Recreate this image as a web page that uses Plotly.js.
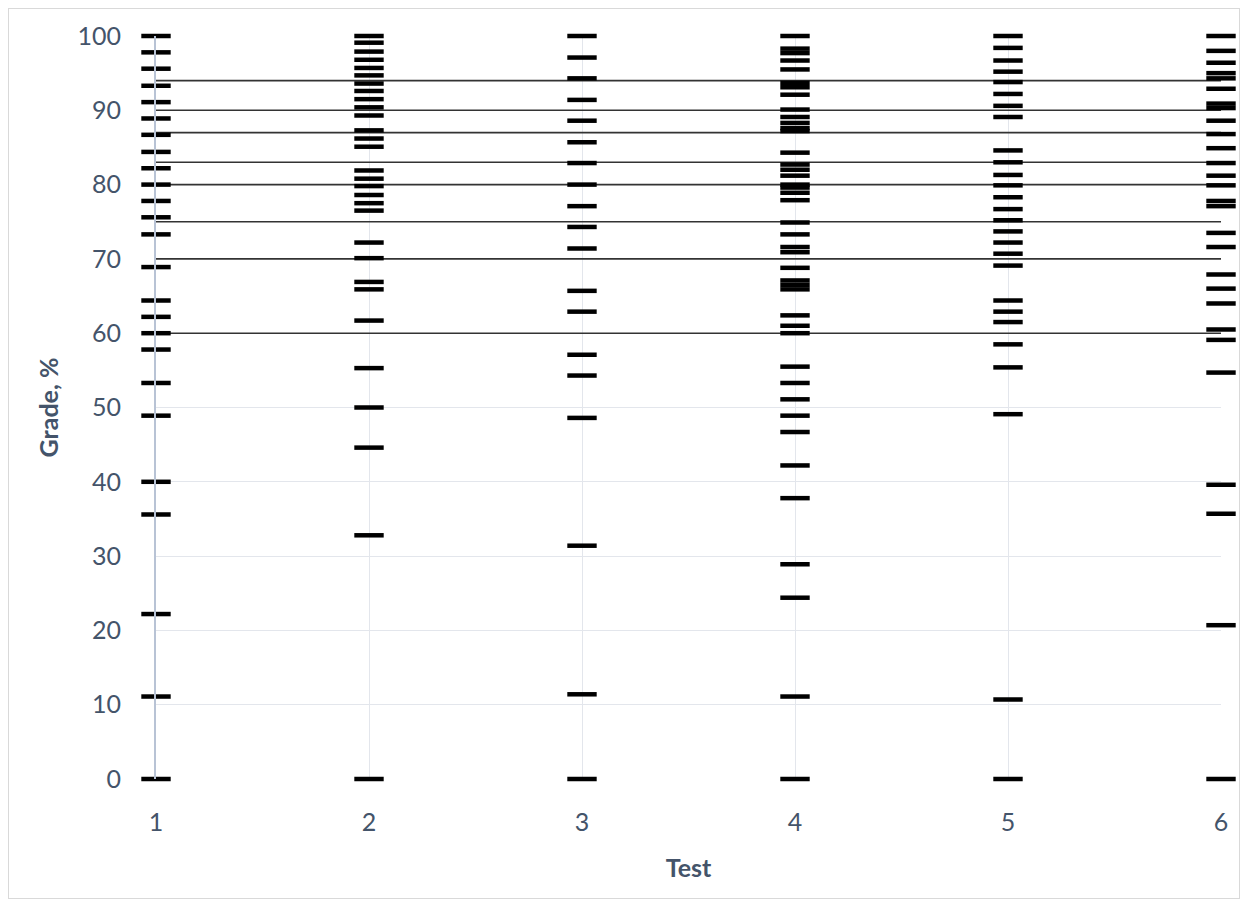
<!DOCTYPE html>
<html>
<head>
<meta charset="utf-8">
<script src="https://cdn.plot.ly/plotly-3.0.1.min.js"></script>
<style>
  html, body { margin: 0; padding: 0; background: #fff; }
  #chart { width: 1244px; height: 905px; }
  #frame { position: absolute; left: 8px; top: 8px; width: 1230px; height: 889px; border: 1px solid #d9d9d9; pointer-events: none; }
</style>
</head>
<body>
<div id="chart"></div>
<div id="frame"></div>
<script>
// Tests (x categories)
const tests = [1, 2, 3, 4, 5, 6];

// Grades for each test (%)
const test1 = [100, 97.8, 95.6, 93.3, 91.1, 88.9, 86.7, 84.4, 82.2, 80, 77.8, 75.6, 73.3, 68.9, 64.4, 62.2, 60, 57.8, 53.3, 48.9, 40, 35.6, 22.2, 11.1, 0];
const test2 = [100, 99.1, 97.9, 96.8, 95.7, 94.7, 93.6, 92.6, 91.5, 90.4, 89.3, 87.3, 86.2, 85.1, 81.9, 80.8, 79.8, 78.6, 77.5, 76.5, 72.2, 70.1, 66.9, 65.9, 61.7, 55.3, 50, 44.6, 32.8, 0];
const test3 = [100, 97.1, 94.3, 91.4, 88.6, 85.7, 82.9, 80, 77.1, 74.3, 71.4, 65.7, 62.9, 57.1, 54.3, 48.6, 31.4, 11.4, 0];
const test4 = [100, 98.3, 97.7, 96.7, 95.5, 93.7, 93.1, 92.1, 90.1, 89.1, 88.3, 87.6, 87.2, 84.3, 82.7, 82, 81.2, 80, 79.6, 78.9, 77.9, 74.9, 73.3, 71.6, 70.9, 68.8, 67.1, 66.5, 65.9, 62.4, 61, 60, 55.5, 53.3, 51.1, 48.9, 46.7, 42.2, 37.8, 28.9, 24.4, 11.1, 0];
const test5 = [100, 98.4, 96.7, 95.2, 93.8, 92.2, 90.6, 89.1, 84.6, 83, 81.3, 79.9, 78.3, 76.7, 75.2, 73.7, 72.2, 70.7, 69.1, 64.4, 62.9, 61.5, 58.5, 55.4, 49.1, 10.7, 0];
const test6 = [100, 98, 96.4, 95, 94.3, 92.9, 90.9, 90.3, 88.6, 86.8, 84.9, 82.9, 81.2, 79.9, 77.8, 77.1, 73.5, 71.6, 67.9, 66, 64, 60.5, 59.1, 54.7, 39.6, 35.7, 20.7, 0];

// Grade boundaries (%)
const thresholds = [94, 90, 87, 83, 80, 75, 70, 60];

// Tick labels
const yTicks = [0, 10, 20, 30, 40, 50, 60, 70, 80, 90, 100];

const grades = [test1, test2, test3, test4, test5, test6];

// Threshold lines spanning the tests
const lx = [], ly = [];
thresholds.forEach(t => {
  lx.push(tests[0], tests[tests.length - 1], null);
  ly.push(t, t, null);
});

// Marks
const mx = [], my = [];
grades.forEach((g, i) => {
  g.forEach(v => { mx.push(tests[i]); my.push(v); });
});

const traces = [
  {
    x: lx, y: ly, type: 'scatter', mode: 'lines',
    line: { color: '#333333', width: 1.6 },
    hoverinfo: 'skip', showlegend: false, cliponaxis: false
  },
  {
    x: mx, y: my, type: 'scatter', mode: 'markers',
    marker: { symbol: 'line-ew', size: 21, color: '#000', line: { color: '#000', width: 4.5 } },
    showlegend: false, cliponaxis: false
  }
];

const font = { family: 'Lato, "Open Sans", sans-serif', color: '#44546A' };

const layout = {
  width: 1244, height: 905,
  margin: { l: 156, r: 23, t: 36, b: 126 },
  paper_bgcolor: '#fff', plot_bgcolor: '#fff',
  font: font,
  showlegend: false,
  xaxis: {
    range: [1, 6],
    tickvals: tests,
    ticktext: tests.map(String),
    showgrid: true, gridcolor: '#e3e6ec', gridwidth: 1,
    zeroline: false, showline: false,
    ticks: '', ticklabelstandoff: 26,
    tickfont: { size: 25, color: '#44546A', family: font.family },
    title: { text: '<b>Test</b>', font: { size: 25, color: '#44546A', family: font.family }, standoff: 24 }
  },
  yaxis: {
    range: [0, 100],
    tickvals: yTicks,
    ticktext: yTicks.map(String),
    showgrid: true, gridcolor: '#e3e6ec', gridwidth: 1,
    zeroline: false,
    showline: true, linecolor: '#b8c3d5', linewidth: 2,
    ticks: '', ticklabelstandoff: 28,
    tickfont: { size: 25, color: '#44546A', family: font.family },
    title: { text: '<b>Grade, %</b>', font: { size: 25, color: '#44546A', family: font.family }, standoff: 12 }
  }
};

Plotly.newPlot('chart', traces, layout, { displayModeBar: false, staticPlot: true });
</script>
</body>
</html>
